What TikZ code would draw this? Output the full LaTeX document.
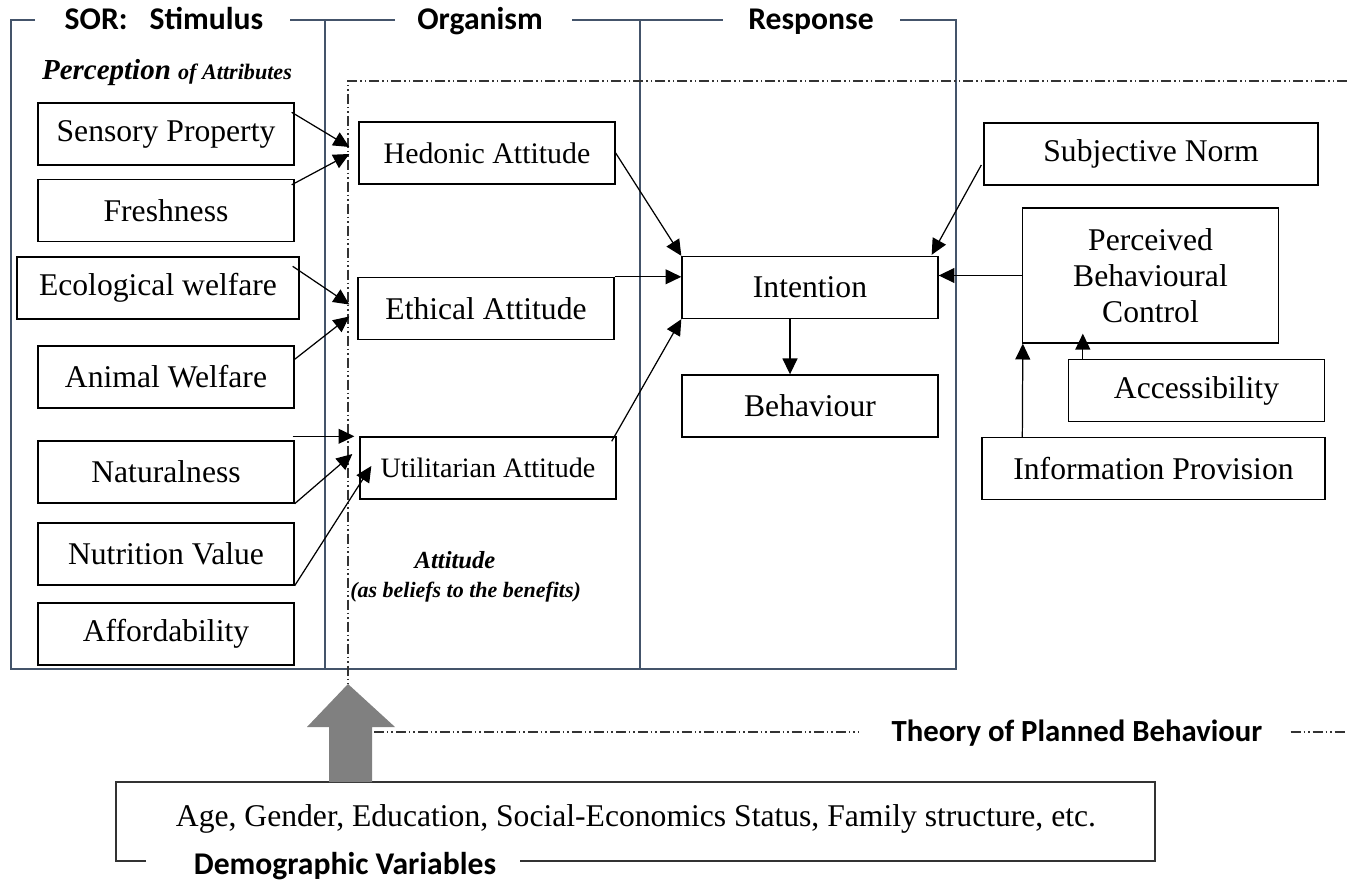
\documentclass[tikz,border=0pt]{standalone}
\usepackage{fontspec}
\setmainfont{Liberation Serif}
\newfontfamily\headfont{Carlito}
\usetikzlibrary{calc,positioning,arrows.meta}
\definecolor{framecol}{RGB}{68,84,106}

\begin{document}
\begin{tikzpicture}[
x=0.02cm,y=-0.02cm,
>={Triangle[length=9pt,width=8.5pt]},
box/.style={
	draw,
	line width=0.8pt,
	minimum width=5.12cm,
	minimum height=1.24cm,
	inner sep=2pt,
	font=\fontsize{18}{20.5}\selectfont
},
link/.style={
	->,
	line width=0.7pt
},
frame/.style={
	draw=framecol,
	line width=0.7pt
},
tpb/.style={
	draw=black!80,
	line width=0.7pt,
	dash pattern=on 0.2cm off 0.06cm on 0.03cm off 0.06cm on 0.03cm off 0.06cm
},
heading/.style={
	font=\headfont\bfseries\fontsize{18}{20}\selectfont,
	inner sep=0pt,
	anchor=base
}
]
\useasboundingbox (0,0) rectangle (1347,882);

% SOR frames
\draw[frame] (35,20) -| (11,669) -| (325,20) -- (290,20);
\draw[frame] (395,20) -- (325,20);
\draw[frame] (325,669) -- (640,669);
\draw[frame] (572,20) -- (723,20);
\draw[frame] (640,20) -- (640,669) -- (956,669) -- (956,20) -- (900,20);
\node[heading] (stimtitle) at (164,30) {SOR:\hspace{0.7em}Stimulus};
\node[heading] (orgtitle) at (480,30) {Organism};
\node[heading] (restitle) at (811,30) {Response};

% TPB frame
\draw[tpb] (1347,81) -- (348,81) -- (348,684);
\node[heading,font=\headfont\bfseries\fontsize{17.5}{20}\selectfont] (tpbtitle) at (1077,741) {Theory of Planned Behaviour};
\draw[tpb] (374,732) -- ($(tpbtitle.west |- 0,732)+(-32,0)$);
\draw[tpb] ($(tpbtitle.east |- 0,732)+(28,0)$) -- (1347,732);

\node[anchor=base] (percept) at (167,80) {\bfseries\itshape\fontsize{16.5}{18}\selectfont Perception \fontsize{12.6}{14}\selectfont of Attributes};

% attributes
\foreach \n/\y/\t in {sensory/134/Sensory Property,fresh/210.5/Freshness,animal/377/Animal Welfare,natural/472/Naturalness,nutri/554/Nutrition Value,afford/634/Affordability}
\node[box] (\n) at (166,\y) {\t};
\node[box,minimum width=5.64cm] (eco) at (158,288) {Ecological welfare};

% attitudes
\node[box,font=\fontsize{17}{20}\selectfont] (hedonic) at (487,153) {Hedonic Attitude};
\node[box] (ethical) at (486,308.5) {Ethical Attitude};
\node[box,font=\fontsize{16}{19}\selectfont] (util) at (488,468) {Utilitarian Attitude};
\node[anchor=base,font=\bfseries\itshape\fontsize{14}{16}\selectfont] (attlabel) at (455,568) {Attitude};
\node[anchor=base west,font=\bfseries\itshape\fontsize{12.5}{15}\selectfont,inner sep=0pt] (attnote) at (350,597) {(as beliefs to the benefits)};

% TPB
\node[box] (intention) at (810,287.5) {Intention};
\node[box] (behaviour) at (810,406) {Behaviour};
\node[box,minimum width=6.68cm] (subjnorm) at (1151,154) {Subjective Norm};
\node[box,minimum height=2.7cm,align=center] (pbc) at (1150.5,275.5) {Perceived\\Behavioural\\Control};
\node[box] (access) at (1196.5,390.5) {Accessibility};
\node[box,minimum width=6.86cm] (info) at (1153.5,468.5) {Information Provision};

% demographics
\draw[black!80,line width=0.9pt] (146,861) -| (116,782) -| (1155,861) -- (520,861);
\node[font=\fontsize{18}{20}\selectfont] (demotext) at (636,819) {Age, Gender, Education, Social-Economics Status, Family structure, etc.};
\node[heading] (demotitle) at (345,874) {Demographic Variables};
\fill[black!50] (329,782) -- (329,727) -- (307,727) -- (348,684) -- (395,727) -- (372,727) -- (372,782) -- cycle;

% links
\draw[link] ($(sensory.north east)+(-3,10)$) -- ($(hedonic.west)+(-9,-6)$);
\draw[link] ($(fresh.north east)+(-3,6)$) -- ($(hedonic.west)+(-9,1)$);
\draw[link] ($(eco.north east)+(-7,10)$) -- ($(ethical.west)+(-8,-4)$);
\draw[link] ($(animal.north east)+(0,14)$) -- ($(ethical.west)+(-8,8)$);
\draw[link] ($(natural.north east)+(-2,-4)$) -- ($(util.north west)+(-5,0)$);
\draw[link] (natural.south east) -- ($(util.west)+(-7,-14)$);
\draw[link] (nutri.south east) -- ($(util.west)+(12,-2)$);

\draw[link] (hedonic.east) -- (intention.north west);
\draw[link] (ethical.north east) -- (ethical.north east -| intention.west);
\draw[link] ($(util.north east)+(-5,5)$) -- (intention.south west);
\draw[link] ($(intention.south)+(-20,0)$) -- ($(behaviour.north)+(-20,0)$);
\draw[link] ($(subjnorm.west)+(-2,11)$) -- ($(intention.north east)+(-7,-1)$);
\draw[link] (pbc.west) -- (pbc.west -| intention.east);
\draw[link] ($(info.north west)+(41,0)$) -- ($(pbc.south west)+(1,0)$);
\draw[link] ($(access.north west)+(15,0)$) -- ($(pbc.south west)+(61,-10)$);
\end{tikzpicture}
\end{document}
